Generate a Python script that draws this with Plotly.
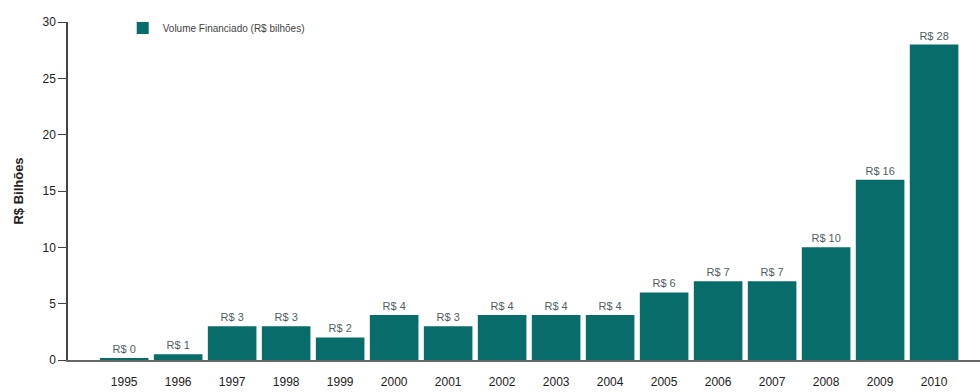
import plotly.graph_objects as go

years = ["1995", "1996", "1997", "1998", "1999", "2000", "2001", "2002",
         "2003", "2004", "2005", "2006", "2007", "2008", "2009", "2010"]
volume = [0.15, 0.5, 3, 3, 2, 4, 3, 4, 4, 4, 6, 7, 7, 10, 16, 28]
labels = ["R$ 0", "R$ 1", "R$ 3", "R$ 3", "R$ 2", "R$ 4", "R$ 3", "R$ 4",
          "R$ 4", "R$ 4", "R$ 6", "R$ 7", "R$ 7", "R$ 10", "R$ 16", "R$ 28"]
y_ticks = [0, 5, 10, 15, 20, 25, 30]

FONT = "Liberation Sans Narrow, Arial Narrow, Liberation Sans, sans-serif"
TEAL = "#086c6a"

fig = go.Figure()
fig.add_trace(go.Bar(
    x=years, y=volume, name="Volume Financiado (R$ bilhões)",
    marker=dict(color=TEAL, line=dict(width=0)),
    text=labels, textposition="outside", cliponaxis=False,
    textfont=dict(family=FONT, size=11, color="#4f5f5f"),
))

fig.update_layout(
    width=980, height=392,
    margin=dict(l=68, r=0, t=22, b=32, autoexpand=False),
    paper_bgcolor="white", plot_bgcolor="white",
    bargap=0.1,
    showlegend=True,
    legend=dict(x=0.06, y=1.025, xanchor="left", yanchor="top",
                bgcolor="rgba(0,0,0,0)",
                font=dict(family=FONT, size=10, color="#444444"),
                itemwidth=30),
    font=dict(family=FONT, color="#333333"),
)
fig.update_xaxes(
    type="category", range=[-1.04, 15.85], automargin=False,
    showline=True, linecolor="#666666", linewidth=2,
    ticks="", showgrid=False, ticklabelstandoff=10,
    tickfont=dict(family=FONT, size=12, color="#222222"),
)
fig.update_yaxes(
    range=[0, 30], tickvals=y_ticks, automargin=False,
    showline=True, linecolor="#444444", linewidth=1.5,
    ticks="outside", ticklen=8, tickcolor="#444444",
    showgrid=False, zeroline=False,
    tickfont=dict(family=FONT, size=12, color="#222222"),
    title=dict(text="<b>R$ Bilhões</b>", font=dict(family=FONT, size=13, color="#222222"), standoff=16),
)

fig.write_html("out.html", config={"displayModeBar": False},
               post_script="document.body.style.margin='0';")
